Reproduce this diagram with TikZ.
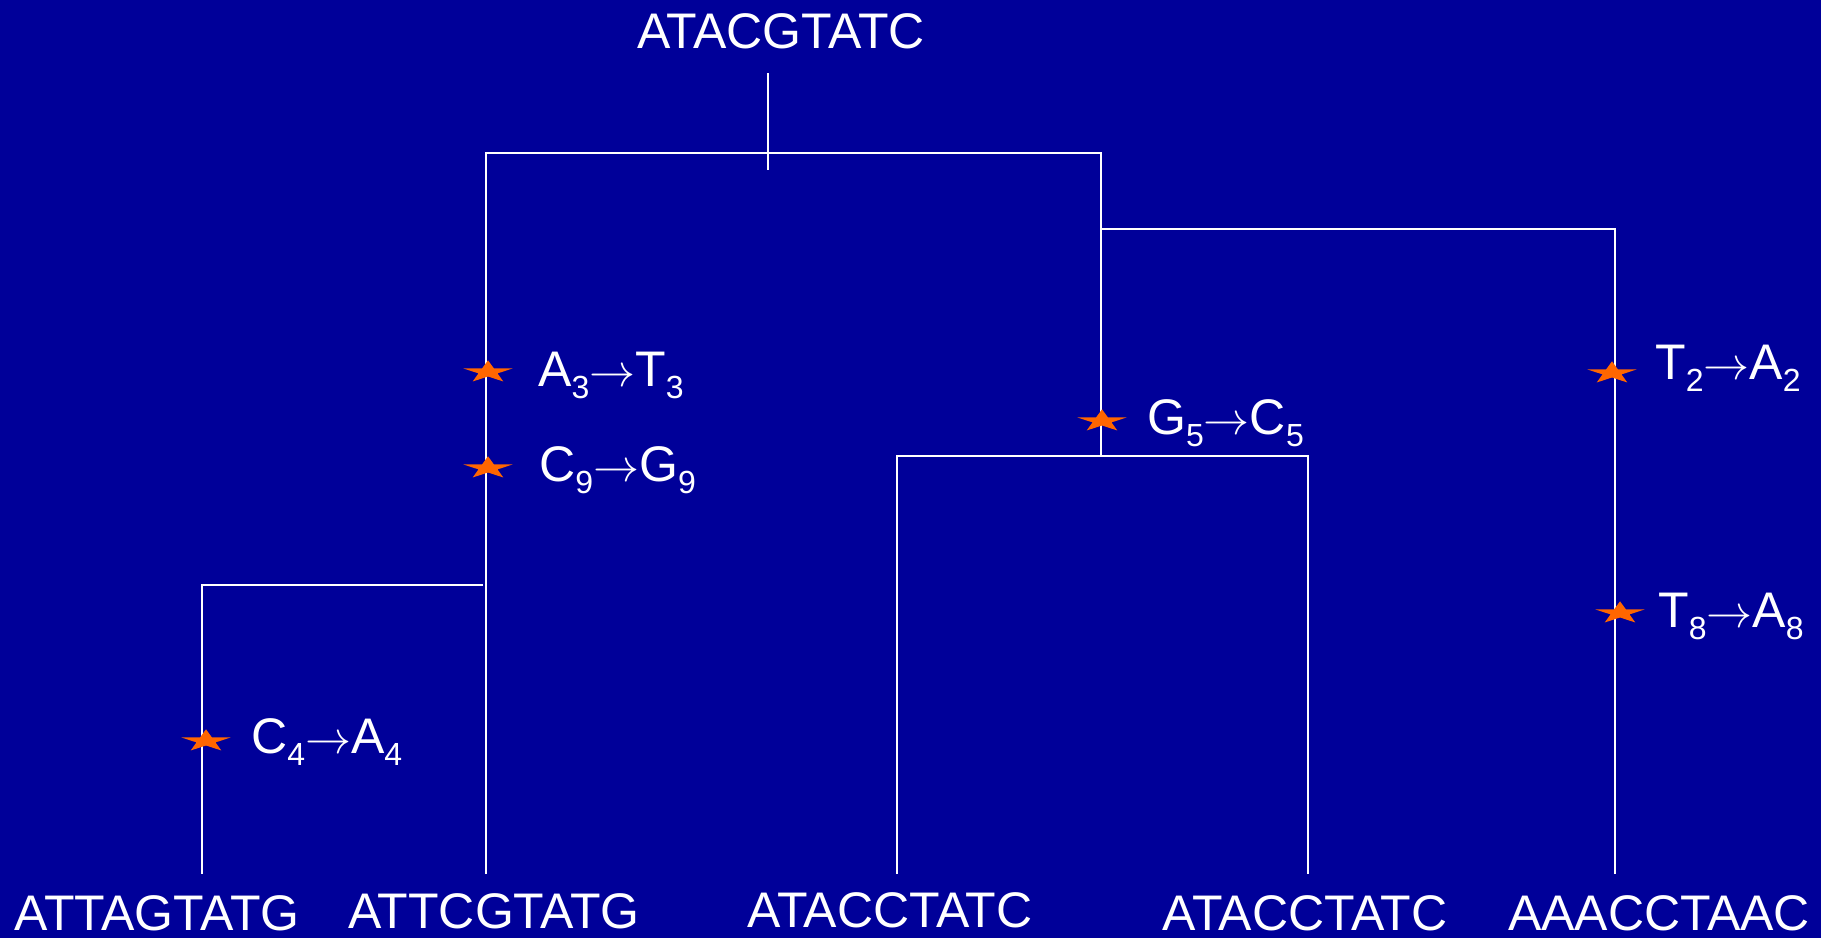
\documentclass[tikz,border=0pt]{standalone}
\usepackage{fontspec}
\usepackage{graphicx}
\setmainfont{Liberation Sans}
\definecolor{bgblue}{HTML}{000099}
\definecolor{starorange}{HTML}{FF6600}
\newcommand\subn[1]{\raisebox{-12.5pt}{\fontsize{32}{32}\selectfont #1}}
\newcommand\mutarrow{{\fontsize{24.88}{30}\selectfont\scalebox{1.85}{$\rightarrow$}}}
\tikzset{
  seqlabel/.style={text=white, inner sep=0pt, anchor=base, font=\fontsize{50}{60}\selectfont},
  mutlabel/.style={text=white, inner sep=0pt, anchor=base west, font=\fontsize{50}{60}\selectfont},
  branch/.style={draw=white, line width=2pt},
}
\begin{document}
\begin{tikzpicture}[x=1pt,y=-1pt]
\fill[bgblue] (0,0) rectangle (1821,938);
\useasboundingbox (0,0) rectangle (1821,938);
% labels
\node[seqlabel] (root) at (781,48) {ATACGTATC};
\node[seqlabel] (l1) at (157,930) {ATTAGTATG};
\node[seqlabel] (l2) at (494,928) {ATTCGTATG};
\node[seqlabel] (l3) at (890,927) {ATACCTATC};
\node[seqlabel] (l4) at (1305,930) {ATACCTATC};
\node[seqlabel] (l5) at (1659,930) {AAACCTAAC};
% tree coordinates
\coordinate (rtop) at (768,73);
\coordinate (rbot) at (768,170);
\coordinate (hL) at (486,153);
\coordinate (hR) at (1101,153);
\coordinate (rj) at (1101,229);
\coordinate (rr) at (1615,229);
\coordinate (gj) at (1101,456);
\coordinate (gL) at (897,456);
\coordinate (gR) at (1308,456);
\coordinate (lj) at (483,585);
\coordinate (ljL) at (202,585);
\coordinate (e1) at (202,874);
\coordinate (e2) at (486,874);
\coordinate (e3) at (897,874);
\coordinate (e4) at (1308,874);
\coordinate (e5) at (1615,874);
\draw[branch] (rtop) -- (rbot);
\draw[branch] (e2) -- (hL) -- (hR) -- (gj);
\draw[branch] (rj) -- (rr) -- (e5);
\draw[branch] (e3) -- (gL) -- (gR) -- (e4);
\draw[branch] (lj) -- (ljL) -- (e1);
% stars
\foreach \sx/\sy in {488/372, 488/468, 206/741, 1102/421, 1612/373, 1620/613}{
  \begin{scope}[shift={(\sx,\sy)}, yscale=-0.45]
    \fill[starorange] (90:26) -- (126:10) -- (162:26) -- (198:10) -- (234:26) -- (270:10)
      -- (306:26) -- (342:10) -- (18:26) -- (54:10) -- cycle;
  \end{scope}
}
% mutation labels
\node[mutlabel] (m1) at (538,386) {A\subn{3}\mutarrow T\subn{3}};
\node[mutlabel] (m2) at (539,481) {C\subn{9}\mutarrow G\subn{9}};
\node[mutlabel] (m3) at (251,753) {C\subn{4}\mutarrow A\subn{4}};
\node[mutlabel] (m4) at (1147,434) {G\subn{5}\mutarrow C\subn{5}};
\node[mutlabel] (m5) at (1655,379) {T\subn{2}\mutarrow A\subn{2}};
\node[mutlabel] (m6) at (1658,627) {T\subn{8}\mutarrow A\subn{8}};
\end{tikzpicture}
\end{document}
